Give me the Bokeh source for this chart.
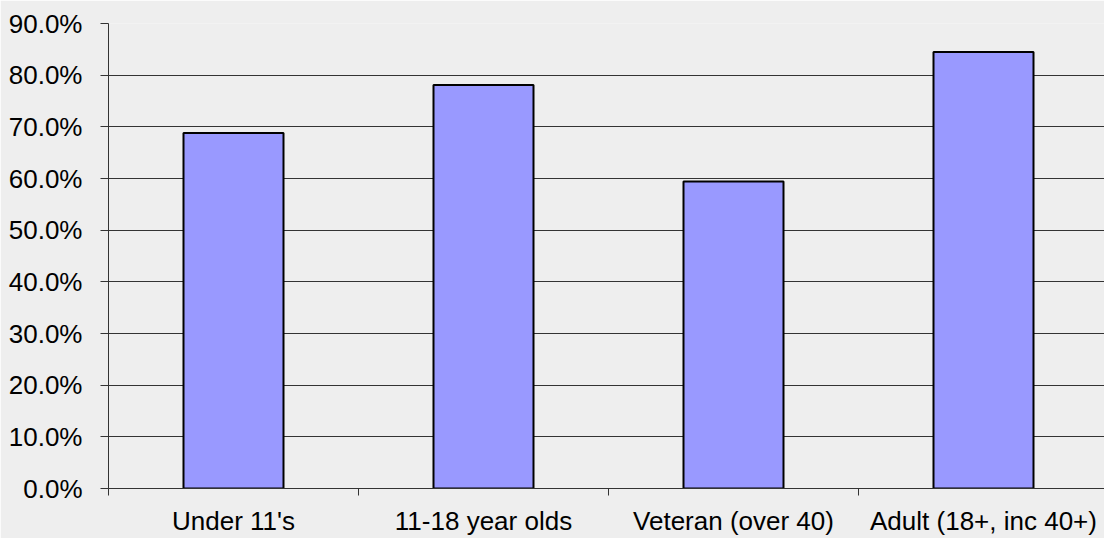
from bokeh.plotting import figure
from bokeh.models import ColumnDataSource, FixedTicker, PrintfTickFormatter, Range1d
from bokeh.embed import file_html
from bokeh.resources import INLINE

# Share of respondents per age group (percent)
categories = ["Under 11's", "11-18 year olds", "Veteran (over 40)", "Adult (18+, inc 40+)"]
values = [68.8, 78.1, 59.4, 84.5]
y_ticks = [0, 10, 20, 30, 40, 50, 60, 70, 80, 90]

centers = [i + 0.5 for i in range(len(categories))]
bounds = list(range(len(categories) + 1))

src = ColumnDataSource(dict(x=centers, top=values, name=categories))

BG = "#eeeeee"
FONT = "Liberation Sans"

p = figure(width=1104, height=538, output_backend="svg", toolbar_location=None,
           x_range=Range1d(0, 3.984), y_range=Range1d(0, 90),
           min_border_left=108, min_border_right=0, min_border_top=23, min_border_bottom=48,
           background_fill_color=BG, border_fill_color=BG)
p.outline_line_color = None

p.vbar(x="x", top="top", width=0.4, bottom=0, source=src,
       fill_color="#9999ff", line_color="black", line_width=2)

# horizontal gridlines
p.xgrid.visible = False
p.ygrid.ticker = FixedTicker(ticks=y_ticks)
p.ygrid.grid_line_color = "#333333"
p.ygrid.grid_line_width = 1

# y axis
ya = p.yaxis[0]
ya.ticker = FixedTicker(ticks=y_ticks)
ya.formatter = PrintfTickFormatter(format="%.1f%%")
ya.major_tick_out = 8
ya.major_tick_in = 0
ya.minor_tick_line_color = None
ya.axis_line_color = "#333333"
ya.major_tick_line_color = "#333333"
ya.major_label_standoff = 18
ya.major_label_text_font = FONT
ya.major_label_text_font_size = "26px"
ya.major_label_text_color = "black"

# x axis: labels centred on bars, ticks on category boundaries
xa = p.xaxis[0]
xa.ticker = FixedTicker(ticks=centers, minor_ticks=bounds)
xa.major_label_overrides = {c: n for c, n in zip(centers, categories)}
xa.major_tick_line_color = None
xa.minor_tick_out = 7
xa.minor_tick_in = 0
xa.minor_tick_line_color = "#333333"
xa.axis_line_color = "#333333"
xa.major_label_standoff = 10
xa.major_label_text_font = FONT
xa.major_label_text_font_size = "26px"
xa.major_label_text_color = "black"

open("out.html", "w").write(file_html(p, INLINE))
